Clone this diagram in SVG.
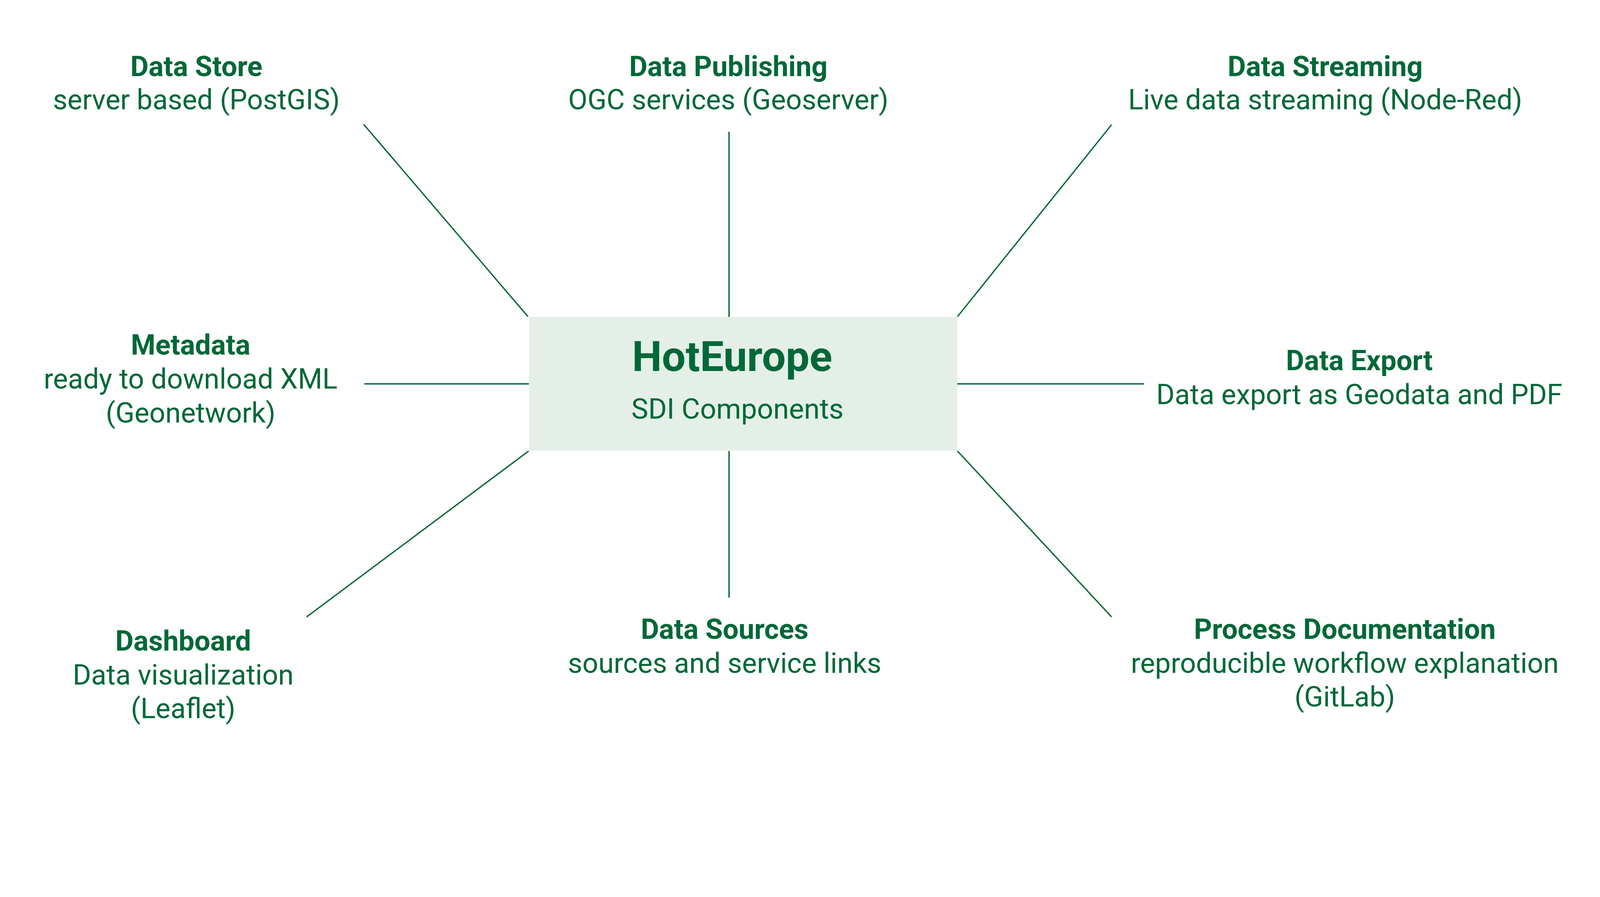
<svg xmlns="http://www.w3.org/2000/svg" width="4734" height="2297" viewBox="0 0 4734 2297" preserveAspectRatio="xMidYMin meet" style="width:100%;height:100%">
<style>
.t{font-family:Roboto,"Liberation Sans",sans-serif;fill:#006837;text-anchor:middle;font-size:83px}
.b{font-weight:bold}
.c{stroke:#006837;stroke-width:4;fill:none}
</style>
<rect width="4734" height="2297" fill="#ffffff"/>
<g id="connectors">
<line class="c" x1="1076" y1="368" x2="1562" y2="937"/>
<line class="c" x1="2157" y1="390" x2="2157" y2="939"/>
<line class="c" x1="3289" y1="369" x2="2833" y2="937"/>
<line class="c" x1="1078" y1="1136" x2="1565" y2="1136"/>
<line class="c" x1="2832" y1="1136" x2="3385" y2="1136"/>
<line class="c" x1="1564" y1="1335" x2="907" y2="1826"/>
<line class="c" x1="2157" y1="1335" x2="2157" y2="1769"/>
<line class="c" x1="2833" y1="1335" x2="3289" y2="1826"/>
</g>
<g id="center">
<rect x="1565" y="938" width="1267" height="396" fill="#e4efe8"/>
<text x="1870" y="1098" font-family="Roboto,'Liberation Sans',sans-serif" font-weight="bold" font-size="125" fill="#006837">HotEurope</text>
<text x="1868" y="1239" font-family="Roboto,'Liberation Sans',sans-serif" font-size="84" fill="#006837">SDI Components</text>
</g>
<g id="data-store">
<text class="t b" x="581" y="225">Data Store</text>
<text class="t" x="581" y="324">server based (PostGIS)</text>
</g>
<g id="data-publishing">
<text class="t b" x="2155" y="225">Data Publishing</text>
<text class="t" x="2155" y="324">OGC services (Geoserver)</text>
</g>
<g id="data-streaming">
<text class="t b" x="3921" y="225">Data Streaming</text>
<text class="t" x="3921" y="324">Live data streaming (Node-Red)</text>
</g>
<g id="metadata">
<text class="t b" x="564" y="1050">Metadata</text>
<text class="t" x="564" y="1150">ready to download XML</text>
<text class="t" x="564" y="1250">(Geonetwork)</text>
</g>
<g id="data-export">
<text class="t b" x="4022" y="1096">Data Export</text>
<text class="t" x="4022" y="1196">Data export as Geodata and PDF</text>
</g>
<g id="dashboard">
<text class="t b" x="542" y="1926">Dashboard</text>
<text class="t" x="542" y="2026">Data visualization</text>
<text class="t" x="542" y="2125">(Leaflet)</text>
</g>
<g id="data-sources">
<text class="t b" x="2144" y="1891">Data Sources</text>
<text class="t" x="2144" y="1991">sources and service links</text>
</g>
<g id="process-documentation">
<text class="t b" x="3979" y="1891">Process Documentation</text>
<text class="t" x="3979" y="1991">reproducible workflow explanation</text>
<text class="t" x="3979" y="2091">(GitLab)</text>
</g>
</svg>
